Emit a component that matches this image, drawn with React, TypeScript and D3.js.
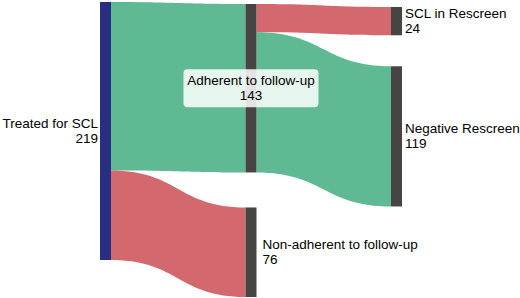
import React, { useEffect, useRef } from "react";
import * as d3 from "d3";

// nodes
const nodeNames = [
  "Treated for SCL",
  "Adherent to follow-up",
  "Non-adherent to follow-up",
  "SCL in Rescreen",
  "Negative Rescreen",
];
const nodeColumns = [0, 1, 1, 2, 2];
const nodeKinds = ["root", "step", "step", "step", "step"];

// links
const linkSources = [0, 0, 1, 1];
const linkTargets = [1, 2, 3, 4];
const linkValues = [143, 76, 24, 119];
const linkKinds = ["good", "bad", "bad", "good"];

const W = 520;
const H = 298;

export default function App() {
  const ref = useRef<SVGSVGElement>(null);

  useEffect(() => {
    document.body.style.margin = "0";
    const svg = d3.select(ref.current);
    svg.selectAll("*").remove();

    const nodeWidth = 11;
    // per-column layout: top offset and gap between nodes
    const colTop = [2, 4, 7];
    const colPad = [0, 35, 31];

    const x = d3.scaleLinear().domain([0, 2]).range([100, 391]);
    const total = d3.sum(linkValues.filter((_, i) => linkSources[i] === 0));
    const ky = d3.scaleLinear().domain([0, total]).range([0, 258]);

    const nodeColor = d3.scaleOrdinal<string, string>().domain(["root", "step"]).range(["#2a2e80", "#474444"]);
    const linkColor = d3.scaleOrdinal<string, string>().domain(["good", "bad"]).range(["#5fba94", "#d3696f"]);

    // node values = max(in, out)
    const nodes = nodeNames.map((name, i) => {
      const vin = d3.sum(linkValues.filter((_, j) => linkTargets[j] === i));
      const vout = d3.sum(linkValues.filter((_, j) => linkSources[j] === i));
      return { name, col: nodeColumns[i], kind: nodeKinds[i], value: Math.max(vin, vout), x0: 0, y0: 0, y1: 0, outY: 0, inY: 0 };
    });

    // stack nodes in each column
    d3.range(3).forEach((c) => {
      let y = colTop[c];
      nodes.filter((n) => n.col === c).forEach((n) => {
        n.x0 = x(c);
        n.y0 = y;
        n.y1 = y + ky(n.value);
        n.outY = n.y0;
        n.inY = n.y0;
        y = n.y1 + colPad[c];
      });
    });

    const links = linkValues.map((v, i) => {
      const s = nodes[linkSources[i]];
      const t = nodes[linkTargets[i]];
      const h = ky(v);
      const l = { sx: s.x0 + nodeWidth, tx: t.x0, sy0: s.outY, sy1: s.outY + h, ty0: t.inY, ty1: t.inY + h, kind: linkKinds[i] };
      s.outY += h;
      t.inY += h;
      return l;
    });

    const linkPath = (l: any) => {
      const xm = (l.sx + l.tx) / 2;
      const p = d3.path();
      p.moveTo(l.sx, l.sy0);
      p.bezierCurveTo(xm, l.sy0, xm, l.ty0, l.tx, l.ty0);
      p.lineTo(l.tx, l.ty1);
      p.bezierCurveTo(xm, l.ty1, xm, l.sy1, l.sx, l.sy1);
      p.closePath();
      return p.toString();
    };

    svg.append("g")
      .selectAll("path")
      .data(links)
      .enter()
      .append("path")
      .attr("d", linkPath)
      .attr("fill", (d) => linkColor(d.kind));

    svg.append("g")
      .selectAll("rect")
      .data(nodes)
      .enter()
      .append("rect")
      .attr("x", (d) => d.x0)
      .attr("y", (d) => d.y0)
      .attr("width", nodeWidth)
      .attr("height", (d) => d.y1 - d.y0)
      .attr("fill", (d) => nodeColor(d.kind));

    const font = "Liberation Sans, Arial, sans-serif";
    const fs = 13.5;

    nodes.forEach((n, i) => {
      const cy = (n.y0 + n.y1) / 2;
      let tx: number;
      let anchor: string;
      if (n.col === 0) {
        tx = n.x0 - 2;
        anchor = "end";
      } else if (i === 1) {
        tx = n.x0 + nodeWidth / 2;
        anchor = "middle";
        // rounded translucent box behind the middle label
        svg.append("rect")
          .attr("x", tx - 67.5)
          .attr("y", cy - 19)
          .attr("width", 135)
          .attr("height", 38)
          .attr("rx", 4)
          .attr("fill", "#ffffff")
          .attr("fill-opacity", 0.85);
      } else {
        tx = n.x0 + nodeWidth + (n.col === 1 ? 6 : 3);
        anchor = "start";
      }
      const t = svg.append("text")
        .attr("font-family", font)
        .attr("font-size", fs)
        .attr("fill", "#000")
        .attr("text-anchor", anchor);
      t.append("tspan").attr("x", tx).attr("y", cy - 3).text(n.name);
      t.append("tspan").attr("x", tx).attr("y", cy + 12).text(String(n.value));
    });
  }, []);

  return <svg ref={ref} width={W} height={H} style={{ display: "block" }} />;
}
